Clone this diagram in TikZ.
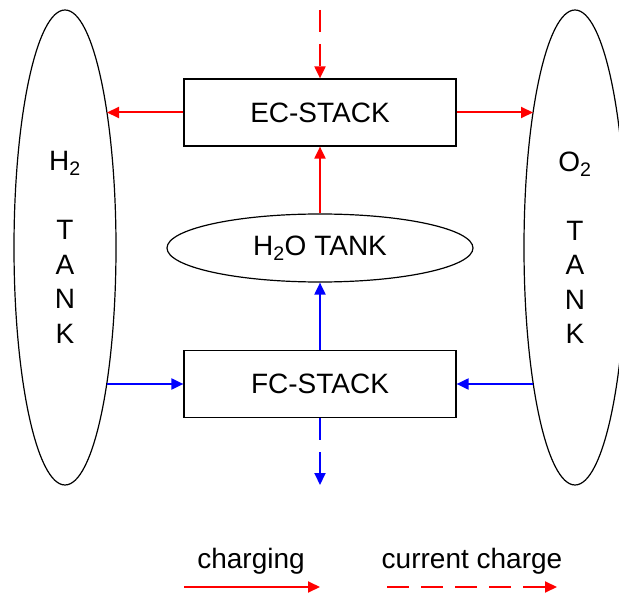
\documentclass[tikz,border=0pt]{standalone}
\usepackage{fontspec}
\setmainfont{Liberation Sans}
\usetikzlibrary{shapes.geometric,arrows.meta,calc}
\begin{document}
\begin{tikzpicture}[x=1pt,y=-1pt,
  every node/.style={font=\fontsize{28}{34.5}\selectfont},
  tank/.style={draw=black, line width=1.2pt, ellipse, inner sep=0pt, minimum width=102pt, minimum height=475pt, align=center},
  stackbox/.style={draw=black, line width=1.2pt, rectangle, minimum width=272pt, minimum height=67pt, inner sep=0pt},
  waterbox/.style={draw=black, line width=1.2pt, ellipse, minimum width=306pt, minimum height=68pt, inner sep=0pt},
  flow/.style={line width=2pt, -{Triangle[length=12pt,width=11pt]}},
  redflow/.style={flow, red},
  blueflow/.style={flow, blue},
  dashflow/.style={dash pattern=on 22pt off 12pt}]
\useasboundingbox (0,0) rectangle (619,596);
\clip (0,0) rectangle (619,596);

\node[tank] (h2) at (65,247.5) {H\textsubscript{2}\\[34.5pt]T\\A\\N\\K};
\node[tank] (o2) at (575,247.5) {O\textsubscript{2}\\[34.5pt]T\\A\\N\\K};
\node[stackbox] (ec) at (320,112.5) {EC-STACK};
\node[stackbox] (fc) at (320,384) {FC-STACK};
\node[waterbox] (h2o) at (320,248) {H\textsubscript{2}O TANK};

\coordinate (ecin) at (320,10);
\coordinate (fcout) at (320,485);
\draw[redflow, dashflow] (ecin) -- (ec.north);
\draw[redflow] (ec.west) -- ($(h2.center |- ec.west)+(42.0,0)$);
\draw[redflow] (ec.east) -- ($(o2.center |- ec.east)+(-42.0,0)$);
\draw[redflow] (h2o.north) -- (ec.south);
\draw[blueflow] (fc.north) -- (h2o.south);
\draw[blueflow] ($(h2.center |- fc.west)+(41.7,0)$) -- (fc.west);
\draw[blueflow] ($(o2.center |- fc.east)+(-41.7,0)$) -- (fc.east);
\draw[blueflow, dashflow] (fc.south) -- (fcout);

\node[anchor=base] (lg1) at (251,568) {charging};
\node[anchor=base] (lg2) at (472,568) {current charge};
\coordinate (l1a) at (184,587);
\coordinate (l1b) at (320,587);
\coordinate (l2a) at (387,587);
\coordinate (l2b) at (557,587);
\draw[redflow] (l1a) -- (l1b);
\draw[redflow, dashflow] (l2a) -- (l2b);
\end{tikzpicture}
\end{document}
